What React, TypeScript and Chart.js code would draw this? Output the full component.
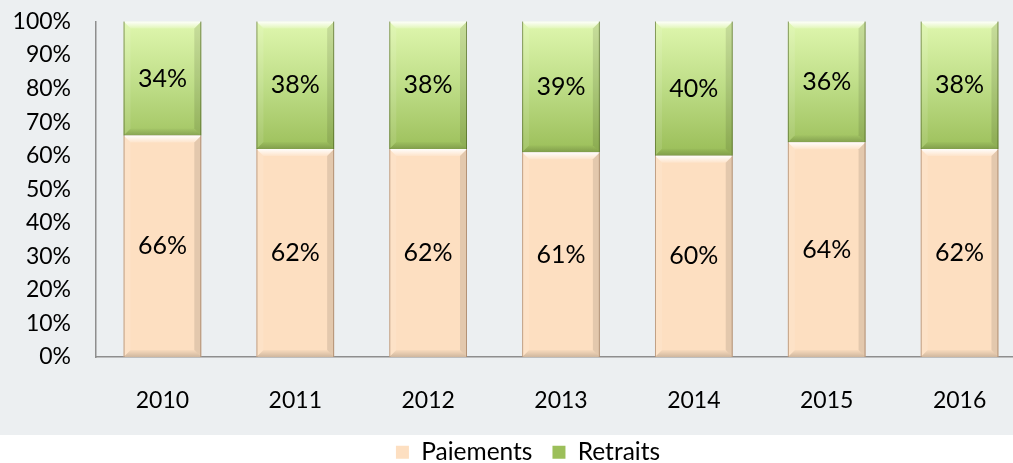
import React, { useEffect, useRef } from "react";
import { Chart, registerables } from "chart.js";

Chart.register(...registerables);

const years = ["2010", "2011", "2012", "2013", "2014", "2015", "2016"];
const paiements = [66, 62, 62, 61, 60, 64, 62];
const retraits = [34, 38, 38, 39, 40, 36, 38];
const yTicks = [0, 10, 20, 30, 40, 50, 60, 70, 80, 90, 100];

const FONT = "Lato, 'Open Sans', sans-serif";

const bgPlugin = {
  id: "bgPlugin",
  beforeDraw(chart: any) {
    const { ctx, width, height } = chart;
    ctx.save();
    ctx.fillStyle = "#ffffff";
    ctx.fillRect(0, 0, width, height);
    ctx.fillStyle = "#ECEFF1";
    ctx.fillRect(0, 0, width, 435);
    ctx.restore();
  },
};

const legendShift = {
  id: "legendShift",
  afterLayout(chart: any) {
    const l = chart.legend;
    if (l) {
      l.left += 15;
      l.right += 15;
    }
  },
};

const bevelPlugin = {
  id: "bevelPlugin",
  afterDatasetsDraw(chart: any) {
    const ctx = chart.ctx;
    chart.data.datasets.forEach((ds: any, di: number) => {
      const meta = chart.getDatasetMeta(di);
      meta.data.forEach((el: any) => {
        const left = el.x - el.width / 2;
        const right = el.x + el.width / 2;
        const top = Math.min(el.y, el.base);
        const bottom = Math.max(el.y, el.base);
        const b = 7;
        ctx.save();
        let g = ctx.createLinearGradient(0, top, 0, top + b);
        g.addColorStop(0, "rgba(255,255,255,0.95)");
        g.addColorStop(1, "rgba(255,255,255,0.15)");
        ctx.fillStyle = g;
        ctx.beginPath();
        ctx.moveTo(left, top);
        ctx.lineTo(right, top);
        ctx.lineTo(right - b, top + b);
        ctx.lineTo(left + b, top + b);
        ctx.closePath();
        ctx.fill();
        g = ctx.createLinearGradient(0, bottom - b, 0, bottom);
        g.addColorStop(0, "rgba(0,0,0,0.02)");
        g.addColorStop(1, "rgba(0,0,0,0.18)");
        ctx.fillStyle = g;
        ctx.beginPath();
        ctx.moveTo(left, bottom);
        ctx.lineTo(right, bottom);
        ctx.lineTo(right - b, bottom - b);
        ctx.lineTo(left + b, bottom - b);
        ctx.closePath();
        ctx.fill();
        ctx.fillStyle = "rgba(0,0,0,0.10)";
        ctx.beginPath();
        ctx.moveTo(right, top);
        ctx.lineTo(right, bottom);
        ctx.lineTo(right - b, bottom - b);
        ctx.lineTo(right - b, top + b);
        ctx.closePath();
        ctx.fill();
        ctx.fillStyle = "rgba(255,255,255,0.10)";
        ctx.beginPath();
        ctx.moveTo(left, top);
        ctx.lineTo(left, bottom);
        ctx.lineTo(left + b, bottom - b);
        ctx.lineTo(left + b, top + b);
        ctx.closePath();
        ctx.fill();
        ctx.strokeStyle = di === 0 ? "rgba(120,80,50,0.45)" : "rgba(60,80,20,0.55)";
        ctx.lineWidth = 1;
        ctx.beginPath();
        ctx.moveTo(left + 0.5, top);
        ctx.lineTo(left + 0.5, bottom);
        ctx.moveTo(right - 0.5, top);
        ctx.lineTo(right - 0.5, bottom);
        ctx.stroke();
        ctx.restore();
      });
    });
    ctx.save();
    ctx.font = `25px ${FONT}`;
    ctx.fillStyle = "#000";
    ctx.textAlign = "center";
    ctx.textBaseline = "middle";
    chart.data.datasets.forEach((ds: any, di: number) => {
      const meta = chart.getDatasetMeta(di);
      meta.data.forEach((el: any, i: number) => {
        const cy = (el.y + el.base) / 2;
        ctx.fillText(ds.data[i] + "%", el.x, cy);
      });
    });
    ctx.restore();
  },
};

export default function App() {
  const ref = useRef<HTMLCanvasElement | null>(null);
  useEffect(() => {
    const canvas = ref.current!;
    const chart = new Chart(canvas, {
      type: "bar",
      data: {
        labels: years,
        datasets: [
          {
            label: "Paiements",
            data: paiements,
            backgroundColor: "#FDDFC1",
            borderWidth: 0,
            barPercentage: 0.585,
            categoryPercentage: 1,
          },
          {
            label: "Retraits",
            data: retraits,
            backgroundColor: (c: any) => {
              const ca = c.chart.chartArea;
              if (!ca) return "#B3D57A";
              const g = c.chart.ctx.createLinearGradient(0, ca.top, 0, ca.top + 130);
              g.addColorStop(0, "#DFF7AE");
              g.addColorStop(0.5, "#BEDD87");
              g.addColorStop(1, "#9CBF5A");
              return g;
            },
            borderWidth: 0,
            barPercentage: 0.585,
            categoryPercentage: 1,
          },
        ],
      },
      options: {
        responsive: false,
        animation: false,
        layout: { padding: { top: 21.5, left: 0, right: 0, bottom: 0 } },
        plugins: {
          tooltip: { enabled: false },
          legend: {
            position: "bottom",
            maxHeight: 43,
            labels: {
              font: { family: FONT, size: 24.5 },
              color: "#000",
              boxWidth: 13,
              boxHeight: 13,
              padding: 20,
            },
          },
        },
        scales: {
          x: {
            stacked: true,
            grid: { display: false, drawTicks: false },
            border: { display: true, color: "#8E8E8E", width: 1.5 },
            ticks: { font: { family: FONT, size: 23 }, color: "#000", padding: 30 },
            afterFit: (s: any) => {
              s.height = 463 - 43 - 357;
            },
          },
          y: {
            stacked: true,
            min: 0,
            max: 100,
            afterBuildTicks: (s: any) => {
              s.ticks = yTicks.map((v) => ({ value: v }));
            },
            grid: { display: false, drawTicks: false },
            border: { display: true, color: "#8E8E8E", width: 1.5 },
            ticks: {
              font: { family: FONT, size: 23 },
              color: "#000",
              padding: 25,
              callback: (v: any) => v + "%",
            },
            afterFit: (s: any) => {
              s.width = 96;
              s.paddingTop = 0;
              s.paddingBottom = 0;
            },
          },
        },
      },
      plugins: [bgPlugin, legendShift, bevelPlugin],
    } as any);
    return () => chart.destroy();
  }, []);
  return (
    <div style={{ position: "fixed", left: 0, top: 0, width: 1013, height: 463, overflow: "hidden" }}>
      <canvas ref={ref} width={1026} height={463} style={{ display: "block" }} />
    </div>
  );
}
